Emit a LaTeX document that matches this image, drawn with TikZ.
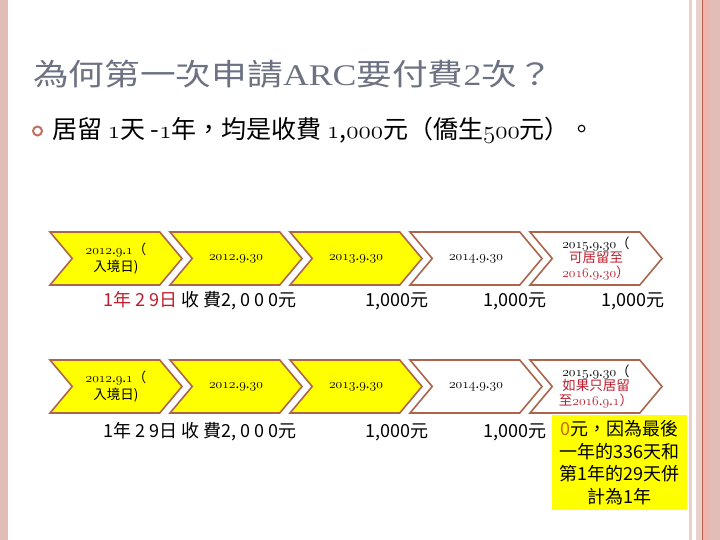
\RequirePackage{fix-cm}
\documentclass[tikz,border=0pt]{standalone}
\usepackage{fontspec}
\usepackage{graphicx}
\setmainfont{Noto Sans CJK TC}
\newfontfamily\latinserif{Liberation Serif}
\usepackage{tikz}
\usetikzlibrary{shapes.symbols, positioning}
\definecolor{pinkband}{RGB}{226,188,182}
\definecolor{pinklight}{RGB}{232,208,203}
\definecolor{pinksalmon}{RGB}{238,180,174}
\definecolor{redline}{RGB}{190,92,80}
\definecolor{titlegray}{RGB}{108,114,130}
\definecolor{chevbrown}{RGB}{172,100,74}
\definecolor{chevyellow}{RGB}{255,255,0}
\definecolor{datered}{RGB}{190,30,45}
\definecolor{zeroorange}{RGB}{204,102,0}
\definecolor{bulletred}{RGB}{192,112,96}
\newcommand{\osn}[1]{{\usefont{OML}{cmm}{m}{it}#1}}
\tikzset{
  chevron/.style={signal, signal from=west, signal to=east,
    signal pointer angle=100, draw=chevbrown, line width=1.6pt,
    minimum width=132pt, minimum height=53pt, inner sep=0pt,
    align=center, font=\fontsize{13.5}{14.5}\selectfont},
  yellowchev/.style={chevron, fill=chevyellow},
  whitechev/.style={chevron, fill=white},
  amount/.style={inner sep=0pt, font=\fontsize{18}{20}\selectfont},
  notebox/.style={rectangle, fill=chevyellow, minimum width=135pt,
    minimum height=95pt, inner sep=0pt, align=center,
    font=\fontsize{18}{22.5}\selectfont}
}
\begin{document}
\begin{tikzpicture}[x=1pt, y=-1pt]
  \useasboundingbox (0,0) rectangle (720,540);
  % Page border
  \fill[pinkband] (0,0) rectangle (8,540);
  \fill[pinklight] (689,0) rectangle (692,540);
  \fill[pinklight] (696,0) rectangle (702,540);
  \fill[pinksalmon] (702,0) rectangle (710,540);
  \fill[pinkband] (710,0) rectangle (720,540);
  \draw[redline, line width=1pt] (702.5,0) -- (702.5,540);

  % Heading
  \node[anchor=base west, inner sep=0pt, text=titlegray, font=\fontsize{30}{34}\selectfont] (title) at (33,86)
    {\scalebox{1.19}[1]{為何第一次申請{\latinserif ARC}要付費{\latinserif 2}次？}};
  \node[circle, draw=bulletred, line width=2pt, minimum size=9pt, inner sep=0pt] (bullet) at (37.5,131) {};
  \node[anchor=base west, inner sep=0pt, font=\fontsize{25}{28}\selectfont] (point) at (52,138.5)
    {居留 \osn{1}天 -\osn{1}年，均是收費 \osn{1},\osn{000}元（僑生\osn{500}元）。};

  % First row
  \node[yellowchev, font=\fontsize{13.5}{17}\selectfont] (a1) at (116,258.5) {\osn{2012}.\osn{9}.\osn{1}（\\入境日)};
  \node[yellowchev] (a2) at (236,258.5) {\osn{2012}.\osn{9}.\osn{30}};
  \node[yellowchev] (a3) at (356,258.5) {\osn{2013}.\osn{9}.\osn{30}};
  \node[whitechev] (a4) at (476,258.5) {\osn{2014}.\osn{9}.\osn{30}};
  \node[whitechev] (a5) at (596,258.5) {\osn{2015}.\osn{9}.\osn{30}（\\
    \color{datered}可居留至\\\color{datered}\osn{2016}.\osn{9}.\osn{30}）};

  \node[amount, anchor=west] (fa1) at (103,301) {{\color{datered}1年 2 9日} 收 費2, 0 0 0元};
  \node[amount] (fa2) at (397,301) {1,000元};
  \node[amount] (fa3) at (515,301) {1,000元};
  \node[amount] (fa4) at (633,301) {1,000元};

  % Second row
  \node[yellowchev, font=\fontsize{13.5}{17}\selectfont] (b1) at (116,386.5) {\osn{2012}.\osn{9}.\osn{1}（\\入境日)};
  \node[yellowchev] (b2) at (236,386.5) {\osn{2012}.\osn{9}.\osn{30}};
  \node[yellowchev] (b3) at (356,386.5) {\osn{2013}.\osn{9}.\osn{30}};
  \node[whitechev] (b4) at (476,386.5) {\osn{2014}.\osn{9}.\osn{30}};
  \node[whitechev] (b5) at (596,386.5) {\osn{2015}.\osn{9}.\osn{30}（\\
    \color{datered}如果只居留\\\color{datered}至\osn{2016}.\osn{9}.\osn{1}）};

  \node[amount, anchor=west] (fb1) at (103,432) {1年 2 9日 收 費2, 0 0 0元};
  \node[amount] (fb2) at (397,432) {1,000元};
  \node[amount] (fb3) at (515,432) {1,000元};
  \node[notebox] (note) at (619.5,462.5)
    {{\color{zeroorange}0}元，因為最後\\一年的336天和\\第1年的29天併\\計為1年};
\end{tikzpicture}
\end{document}
